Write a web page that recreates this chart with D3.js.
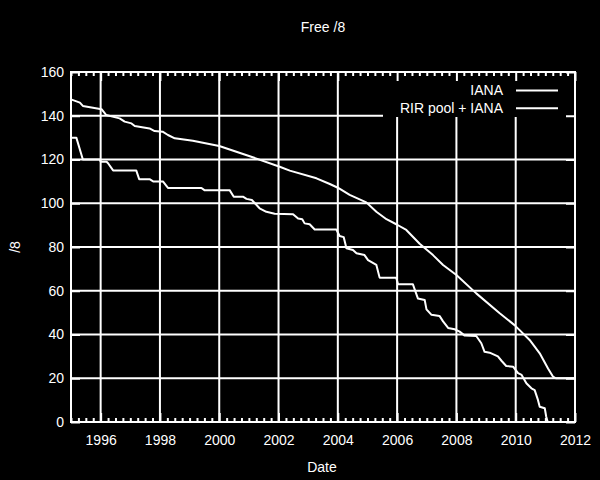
<!DOCTYPE html>
<html>
<head>
<meta charset="utf-8">
<script src="https://cdn.jsdelivr.net/npm/d3@7"></script>
<style>
  html, body { margin: 0; padding: 0; background: #000; }
  svg { display: block; }
  text { font-family: "Liberation Sans", Arial, sans-serif; fill: #fff; }
</style>
</head>
<body>
<svg id="chart" width="600" height="480"></svg>
<script>
// ---- data (decimal years) ----
const ianaYears = [1995.0, 1995.18, 1995.4, 1995.97, 1996.0, 1996.2, 1996.25, 1996.42, 1997.2, 1997.3,
  1997.65, 1997.77, 1998.1, 1998.27, 1999.4, 1999.5, 2000.35, 2000.49, 2000.8, 2000.92,
  2001.1, 2001.36, 2001.59, 2001.87, 2002.49, 2002.66, 2002.8, 2002.88, 2003.05, 2003.22,
  2003.95, 2004.06, 2004.2, 2004.29, 2004.51, 2004.63, 2004.9, 2005.02, 2005.3, 2005.41,
  2005.97, 2006.03, 2006.53, 2006.7, 2006.93, 2006.99, 2007.16, 2007.43, 2007.55, 2007.72,
  2007.94, 2008.11, 2008.28, 2008.67, 2008.84, 2008.95, 2009.12, 2009.4, 2009.52, 2009.68,
  2009.91, 2010.08, 2010.2, 2010.36, 2010.53, 2010.64, 2010.75, 2010.81, 2010.98, 2011.03, 2011.08];
const ianaValues = [130, 130, 120, 120, 119, 119, 118.3, 115, 115, 111,
  111, 110, 110, 107, 107, 106, 106, 103, 103, 102,
  101.5, 97.7, 96.1, 95.2, 95, 93, 92.7, 90.8, 90.4, 88,
  88, 85, 84.5, 79.4, 78.6, 77.1, 76.3, 74, 71.8, 66,
  66, 63, 63, 56.5, 55.8, 51.5, 49, 48.5, 46, 43,
  42.4, 41.3, 39.5, 39.3, 36, 32.1, 31.7, 30, 28, 25.6,
  25.3, 22.3, 21.5, 17.7, 15.4, 14.6, 10.1, 7, 6.3, 2.4, 0];

const rirYears = [1995.0, 1995.3, 1995.4, 1996.03, 1996.19, 1996.64, 1996.81, 1997.04, 1997.15, 1997.65,
  1997.82, 1998.09, 1998.27, 1998.5, 1999.11, 2000.0, 2001.03, 2002.04, 2002.38, 2003.28,
  2003.73, 2004.0, 2004.4, 2004.96, 2005.3, 2005.64, 2005.97, 2006.31, 2006.76, 2007.21,
  2007.55, 2008.0, 2008.67, 2009.46, 2009.96, 2010.47, 2010.81, 2011.09, 2011.26, 2011.35, 2012.0];
const rirValues = [147.5, 146, 144.5, 143, 140.3, 138.8, 137.3, 136.5, 135.3, 134.2,
  133, 132.7, 131.2, 129.7, 128.6, 126.2, 121.5, 116.7, 114.9, 111.4,
  108.8, 107.1, 103.8, 100.4, 96.1, 92.7, 90.4, 87.8, 81.5, 76.3,
  71.8, 67.2, 58.8, 49.7, 44.3, 37.5, 31.4, 24.5, 20.7, 20, 20];

const seriesNames = ["IANA", "RIR pool + IANA"];
const xTicks = [1996, 1998, 2000, 2002, 2004, 2006, 2008, 2010, 2012];
const yTicks = [0, 20, 40, 60, 80, 100, 120, 140, 160];
const titleText = "Free /8";
const xLabel = "Date";
const yLabel = "/8";

// ---- layout ----
const L = 71, R = 575, T = 72, B = 422;
const FS = 14;
const svg = d3.select("#chart");
svg.append("rect").attr("width", 600).attr("height", 480).attr("fill", "#000");

const x = d3.scaleLinear().domain([1995, 2012]).range([L, R]);
const y = d3.scaleLinear().domain([0, 160]).range([B, T]);

// grid
const grid = svg.append("g").attr("stroke", "#fff").attr("stroke-width", 2);
xTicks.filter(t => t > 1995 && t < 2012).forEach(t => {
  grid.append("line").attr("x1", x(t)).attr("x2", x(t)).attr("y1", T).attr("y2", B);
});
yTicks.filter(t => t > 0 && t < 160).forEach(t => {
  grid.append("line").attr("x1", L).attr("x2", R).attr("y1", y(t)).attr("y2", y(t));
});

// data lines
const line = d3.line().x(d => x(d[0])).y(d => y(d[1]));
const ianaData = ianaYears.map((v, i) => [v, ianaValues[i]]);
const rirData = rirYears.map((v, i) => [v, rirValues[i]]);
[ianaData, rirData].forEach(data => {
  svg.append("path").datum(data).attr("d", line)
    .attr("fill", "none").attr("stroke", "#fff").attr("stroke-width", 2)
    .attr("stroke-linejoin", "round");
});

// legend box (opaque)
svg.append("rect").attr("x", 383).attr("y", T).attr("width", R - 383).attr("height", 117 - T).attr("fill", "#000");
const legend = svg.append("g");
seriesNames.forEach((name, i) => {
  const ly = 90.5 + i * 17.8;
  legend.append("text").attr("x", 503).attr("y", ly).attr("dy", "0.35em")
    .attr("text-anchor", "end").attr("font-size", FS).text(name);
  legend.append("line").attr("x1", 516).attr("x2", 558).attr("y1", ly).attr("y2", ly)
    .attr("stroke", "#fff").attr("stroke-width", 2);
});

// axes
const minorX = d3.range(1995, 2012.001, 0.25).filter(v => Math.abs(v - Math.round(v / 2) * 2) > 1e-6);
function styleAxis(g) {
  g.select(".domain").remove();
  g.selectAll("line").attr("stroke", "#fff").attr("stroke-width", 2);
  g.selectAll("text").attr("fill", "#fff").attr("font-size", FS)
    .attr("font-family", "'Liberation Sans', Arial, sans-serif");
}
svg.append("g").attr("transform", `translate(0,${B})`)
  .call(d3.axisBottom(x).tickValues(xTicks).tickFormat(d3.format("d")).tickSize(-9).tickPadding(13))
  .call(styleAxis);
svg.append("g").attr("transform", `translate(0,${B})`)
  .call(d3.axisBottom(x).tickValues(minorX).tickFormat("").tickSize(-4))
  .call(styleAxis);
svg.append("g").attr("transform", `translate(0,${T})`)
  .call(d3.axisTop(x).tickValues(xTicks).tickFormat("").tickSize(-9))
  .call(styleAxis);
svg.append("g").attr("transform", `translate(0,${T})`)
  .call(d3.axisTop(x).tickValues(minorX).tickFormat("").tickSize(-4))
  .call(styleAxis);
svg.append("g").attr("transform", `translate(${L},0)`)
  .call(d3.axisLeft(y).tickValues(yTicks).tickSize(-9).tickPadding(7))
  .call(styleAxis);
svg.append("g").attr("transform", `translate(${R},0)`)
  .call(d3.axisRight(y).tickValues(yTicks).tickFormat("").tickSize(-9))
  .call(styleAxis);

// border
svg.append("rect").attr("x", L).attr("y", T).attr("width", R - L).attr("height", B - T)
  .attr("fill", "none").attr("stroke", "#fff").attr("stroke-width", 2);

// titles
svg.append("text").attr("x", 323).attr("y", 27).attr("dy", "0.35em").attr("text-anchor", "middle")
  .attr("font-size", FS).text(titleText);
svg.append("text").attr("x", 322).attr("y", 467).attr("dy", "0.35em").attr("text-anchor", "middle")
  .attr("font-size", FS).text(xLabel);
svg.append("text").attr("transform", "translate(15,247) rotate(-90)").attr("dy", "0.35em")
  .attr("text-anchor", "middle").attr("font-size", FS).text(yLabel);
</script>
</body>
</html>
